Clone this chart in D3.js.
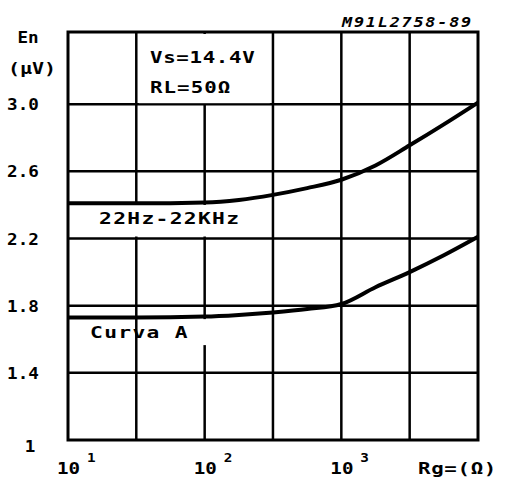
<!DOCTYPE html>
<html lang="en">
<head>
  <meta charset="UTF-8">
  <title>En vs Rg</title>
  <script src="https://d3js.org/d3.v7.min.js"></script>
  <style>
    body { margin: 0; background: #fff; }
    svg { display: block; }
    text {
      font-family: 'DejaVu Sans Mono', monospace;
      font-weight: bold;
      font-size: 16px;
      fill: #000;
    }
    .grid line { stroke: #000; stroke-width: 2.5; }
    .curve { fill: none; stroke: #000; stroke-width: 4; }
  </style>
</head>
<body>
  <script>
    // source resistance (ohm) and noise voltage (uV)
    var rg = [10, 31.6, 100, 178, 316, 562, 1000, 1778, 3162, 5623, 10000];
    var en22k = [2.41, 2.41, 2.415, 2.43, 2.46, 2.50, 2.55, 2.635, 2.755, 2.88, 3.01];
    var enCurvaA = [1.73, 1.73, 1.735, 1.745, 1.76, 1.78, 1.81, 1.91, 2.0, 2.10, 2.21];

    var yTicks = [1, 1.4, 1.8, 2.2, 2.6, 3.0];
    var yLabels = ["1", "1.4", "1.8", "2.2", "2.6", "3.0"];
    var xGrid = [31.6, 100, 316, 1000, 3162];
    var xDecades = [10, 100, 1000];
    var xExp = ["1", "2", "3"];

    var width = 505, height = 479;
    // "top" is taken on window, so use plot* names
    var plotL = 68, plotR = 478, plotT = 32, plotB = 440;

    var svg = d3.select("body").append("svg")
        .attr("width", width)
        .attr("height", height);

    var x = d3.scaleLog().domain([10, 10000]).range([plotL, plotR]);
    var y = d3.scaleLinear().domain([1, 3.43]).range([plotB, plotT]);

    // wide plotter-like lettering: stretch glyphs horizontally
    function label(str, px, py, o) {
      o = o || {};
      var t = svg.append("text")
          .attr("transform", "translate(" + px + "," + py + ") scale(" + (o.sx || 1.3) + ",1)")
          .attr("text-anchor", o.anchor || "start")
          .style("letter-spacing", (o.ls == null ? 1 : o.ls) + "px")
          .text(str);
      if (o.size) t.style("font-size", o.size + "px");
      if (o.italic) t.style("font-style", "italic");
      return t;
    }

    // grid
    var grid = svg.append("g").attr("class", "grid");
    grid.selectAll("line.v")
      .data(xGrid)
      .enter().append("line")
        .attr("class", "v")
        .attr("x1", d => x(d)).attr("x2", d => x(d))
        .attr("y1", plotT).attr("y2", plotB);
    grid.selectAll("line.h")
      .data(yTicks.slice(1))
      .enter().append("line")
        .attr("class", "h")
        .attr("x1", plotL).attr("x2", plotR)
        .attr("y1", d => y(d)).attr("y2", d => y(d));

    // blank boxes behind the labels inside the plot
    svg.append("rect").attr("x", x(33)).attr("y", plotT + 2)
        .attr("width", x(300) - x(33)).attr("height", y(3.0) - plotT - 3).attr("fill", "#fff");
    svg.append("rect").attr("x", plotL + 2).attr("y", y(2.4))
        .attr("width", x(280) - plotL - 2).attr("height", y(2.2) - y(2.4) - 2).attr("fill", "#fff");
    svg.append("rect").attr("x", x(34)).attr("y", y(1.72))
        .attr("width", x(280) - x(34)).attr("height", 26).attr("fill", "#fff");

    // frame
    svg.append("rect")
        .attr("x", plotL).attr("y", plotT)
        .attr("width", plotR - plotL).attr("height", plotB - plotT)
        .attr("fill", "none").attr("stroke", "#000").attr("stroke-width", 3);

    var line = d3.line()
        .x((d, i) => x(rg[i]))
        .y(d => y(d))
        .curve(d3.curveMonotoneX);

    svg.append("path").attr("class", "curve").attr("d", line(en22k));
    svg.append("path").attr("class", "curve").attr("d", line(enCurvaA));

    // y labels
    yTicks.forEach(function(d, i) {
      label(yLabels[i], d === 1 ? 30 : 23, y(d) + (d === 1 ? 12 : 6), { anchor: "middle", sx: 1.1, ls: 0 });
    });
    label("En", 28, 43, { anchor: "middle", sx: 1.1, ls: 0 });
    label("(µV)", 32, 74, { anchor: "middle", sx: 1.25, ls: 0 });

    // x labels
    xDecades.forEach(function(d, i) {
      label("10", x(d) - 11, 474, { sx: 1.2, ls: 0 });
      label(xExp[i], x(d) + 19, 462, { sx: 1.1, ls: 0, size: 13 });
    });
    label("Rg=(Ω)", 418, 474, { sx: 1.3, ls: 0.5 });

    // in-plot labels
    label("Vs=14.4V", 150, 63, { sx: 1.3, ls: 0.5 });
    label("RL=50Ω", 150, 93, { sx: 1.3, ls: 0.8 });
    label("22Hz-22KHz", 99, 224, { sx: 1.33, ls: 1 });
    label("Curva A", 90, 338, { sx: 1.33, ls: 1 });

    label("M91L2758-89", 473, 27, { anchor: "end", italic: true, size: 14, sx: 1.2, ls: 1.5 });
  </script>
</body>
</html>
